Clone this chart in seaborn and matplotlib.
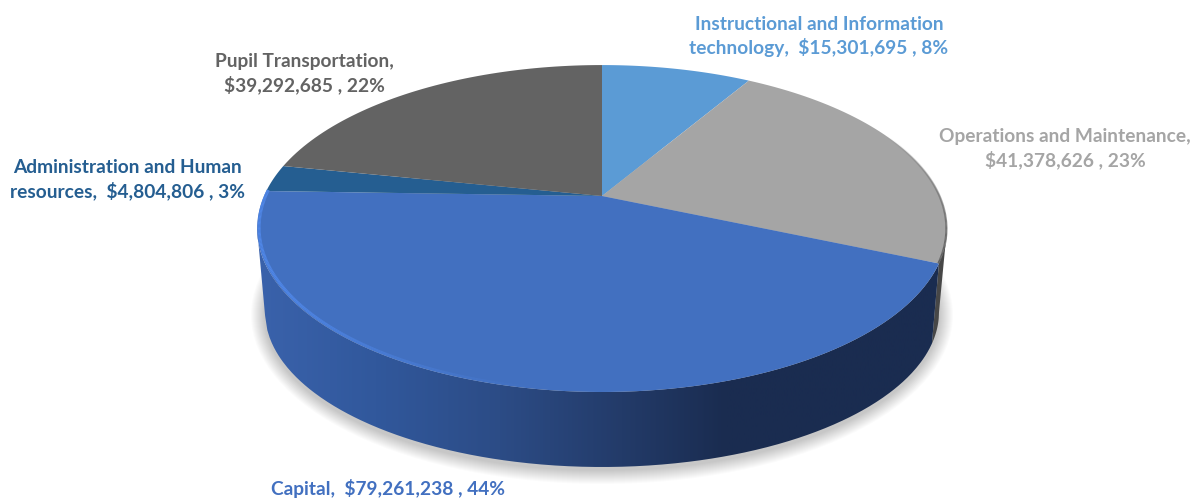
import numpy as np
import matplotlib
matplotlib.use('Agg')
import matplotlib.pyplot as plt
import seaborn as sns
from matplotlib.collections import LineCollection
from matplotlib.colors import LinearSegmentedColormap
from matplotlib.patches import Ellipse, PathPatch
from matplotlib.path import Path
from matplotlib.transforms import Transform

# data (clockwise from 12 o'clock)
categories = ['Instructional and Information technology', 'Operations and Maintenance',
              'Capital', 'Administration and Human resources', 'Pupil Transportation']
amounts = [15301695, 41378626, 79261238, 4804806, 39292685]
slice_colors = ['#5b9bd5', '#a5a5a5', '#4270c0', '#255e91', '#636363']
label_lines = ['Instructional and Information\ntechnology,  $15,301,695 , 8%',
               'Operations and Maintenance,\n$41,378,626 , 23%',
               'Capital,  $79,261,238 , 44%',
               'Administration and Human\nresources,  $4,804,806 , 3%',
               'Pupil Transportation,\n$39,292,685 , 22%']
label_x = [819, 1065, 388, 127, 304]
label_y = [36.5, 148.5, 488.5, 179.5, 73.5]

# layout of the tilted disc, in pixels
APEX_X, APEX_Y = 602, 196
HALF_W, HALF_H, TILT = 338, 157, 0.199
FLOOR_Y, FLOOR_A, FLOOR_B = 312, 337, 155

sns.set_theme(style='white')
plt.rcParams['font.family'] = ['Lato', 'DejaVu Sans']


class TiltTransform(Transform):
    # unit pie circle -> pixel positions on the tilted disc
    input_dims = 2
    output_dims = 2
    is_separable = False

    def transform_non_affine(self, values):
        values = np.asarray(values, dtype=float)
        depth = 1 + TILT * values[:, 1]
        return np.column_stack([APEX_X + HALF_W * values[:, 0] / depth,
                                APEX_Y - HALF_H * values[:, 1] / depth])

    def transform_path_non_affine(self, path):
        pts = [curve(np.linspace(0, 1, 30)) for curve, code in path.iter_bezier()]
        return Path(self.transform_non_affine(np.vstack(pts)))


tilt = TiltTransform()


def rim_points(angles):
    # angles in degrees, clockwise from the top
    rad = np.radians(angles)
    return tilt.transform_non_affine(np.column_stack([np.sin(rad), np.cos(rad)]))


def floor_points(xs):
    return FLOOR_Y + FLOOR_B * np.sqrt(np.clip(1 - ((xs - APEX_X) / FLOOR_A) ** 2, 0, 1))


fig = plt.figure(figsize=(11.99, 5.0), dpi=100)
ax = fig.add_axes([0, 0, 1, 1])

palette = sns.color_palette(slice_colors)
wedges, _ = ax.pie(amounts, colors=palette, startangle=90, counterclock=False,
                   wedgeprops={'linewidth': 0, 'zorder': 5})
ax.set_aspect('auto')
for wedge in wedges:
    wedge.set_transform(tilt + ax.transData)

edges = np.cumsum(amounts) / np.sum(amounts) * 360
ops_end, capital_end = edges[1], edges[2]

# soft shadow under the disc
for grow in range(1, 15):
    ax.add_patch(Ellipse((APEX_X, FLOOR_Y + 3), 2 * (FLOOR_A + grow), 2 * (FLOOR_B + grow),
                         facecolor='black', edgecolor='none', alpha=0.016, zorder=1))

# front wall: grey part on the right, gradient blue under Capital
capital_angles = np.linspace(ops_end, capital_end, 300)
capital_rim = rim_points(capital_angles)
left_i = np.argmin(capital_rim[:, 0])
front_rim = capital_rim[:left_i + 1]
floor_x_right = front_rim[0, 0] - 7
floor_xs = np.linspace(floor_x_right, front_rim[-1, 0] + 8, 300)
front_floor = np.column_stack([floor_xs, floor_points(floor_xs)])
wall = np.vstack([front_rim, front_floor[::-1]])

grey_angles = np.linspace(edges[0] + 40, ops_end, 100)
grey_rim = rim_points(grey_angles)
right_i = np.argmax(grey_rim[:, 0])
grey_xs = np.linspace(floor_x_right, APEX_X + FLOOR_A, 30)
grey_floor = np.column_stack([grey_xs, floor_points(grey_xs)])
grey_wall = np.vstack([grey_rim[right_i:], grey_floor])
ax.add_patch(plt.Polygon(grey_wall, closed=True, facecolor='#474747', edgecolor='none', zorder=2))

wall_cmap = LinearSegmentedColormap.from_list('wall', [
    (0.0, '#3a62ab'), (0.17, '#31589c'), (0.35, '#2c4c86'),
    (0.53, '#233b69'), (0.68, '#1a2c50'), (1.0, '#1a2c50')])
wall_clip = PathPatch(Path(wall), facecolor='none', edgecolor='none', transform=ax.transData)
ax.add_patch(wall_clip)
wall_img = ax.imshow(np.linspace(0, 1, 400)[None, :], cmap=wall_cmap, aspect='auto',
                     extent=[257, 947, 500, 0], zorder=3)
wall_img.set_clip_path(wall_clip)

# lit bevel along the left of the Capital edge, fading out to the front
bevel_pts = rim_points(np.linspace(capital_end, ops_end + 75, 200)) + [2, -1]
bevel_segs = np.stack([bevel_pts[:-1], bevel_pts[1:]], axis=1)
ax.add_collection(LineCollection(bevel_segs, colors='#4f86e6', linewidths=2.2, zorder=6,
                                 alpha=np.clip(np.linspace(1.7, 0, 199), 0, 1)))

# dark bevel on the grey slice, strongest at the right end
shade_pts = rim_points(np.linspace(edges[0] + 35, ops_end, 120)) + [-0.5, 0]
shade_segs = np.stack([shade_pts[:-1], shade_pts[1:]], axis=1)
ax.add_collection(LineCollection(shade_segs, colors='#555555', linewidths=1.6, zorder=6,
                                 alpha=np.linspace(0, 0.9, 119)))

for text, color, x, y in zip(label_lines, palette, label_x, label_y):
    ax.text(x, y, text, color=color, fontsize=13.8, fontweight='bold', ha='center',
            va='center', linespacing=1.36, zorder=7)

ax.set_xlim(0, 1199)
ax.set_ylim(500, 0)
ax.set_xticks([])
ax.set_yticks([])
ax.axis('off')

plt.savefig('out.png', dpi=100)
